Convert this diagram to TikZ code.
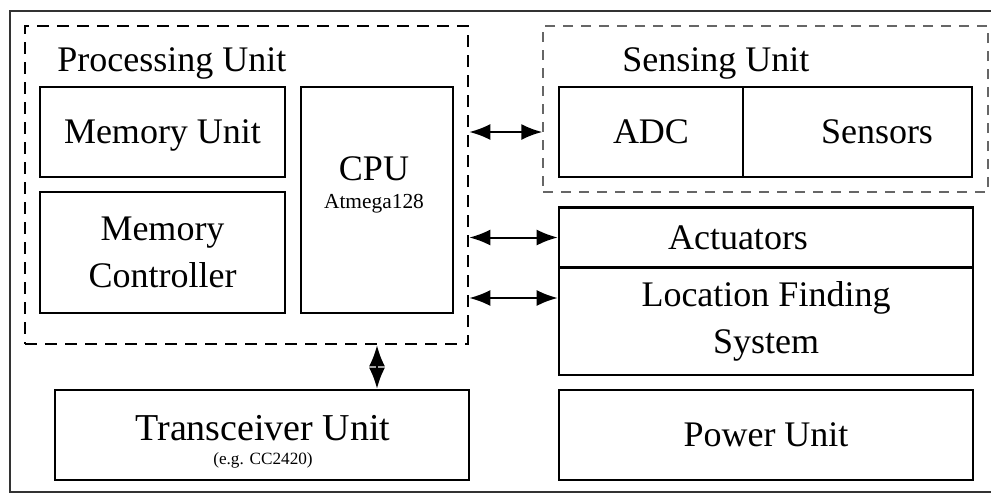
\documentclass[tikz,border=0pt]{standalone}
\usepackage{fontspec}
\setmainfont{Liberation Serif}
\usetikzlibrary{
    arrows.meta,
    calc,
    %positioning,
}

\begin{document}
\begin{tikzpicture}[
        x=0.5pt, y=-0.5pt,
        frame/.style={draw=black!80, line width=1pt},
        unit/.style={rectangle, draw=black, line width=1.3pt, inner sep=0pt, align=center,
            font=\fontsize{18}{23.5}\selectfont},
        group/.style={rectangle, draw=black, line width=1.3pt, dash pattern=on 6pt off 4pt, inner sep=0pt},
        sgroup/.style={rectangle, draw=black!60, line width=0.7pt, dash pattern=on 5pt off 4pt, inner sep=0pt},
        grouplabel/.style={anchor=base west, inner sep=0pt, font=\fontsize{18}{21}\selectfont},
        txt/.style={inner sep=0pt, align=center, font=\fontsize{18}{21}\selectfont},
        biarrow/.style={{Latex[length=10.5pt,width=8pt]}-{Latex[length=10.5pt,width=8pt]}, line width=1pt}
        ]
        \path[use as bounding box, clip] (0,0) rectangle (991,494);
        \draw[frame] (10,11) rectangle (1010,492);

        % processing unit
        \node[group] (PU) at (246.5,185) [minimum width=221.5pt, minimum height=159pt] {};
        \node[grouplabel] (PUL) at (57,71) {Processing Unit};
        \node[unit] (MEM) at (162.5,132) [minimum width=122.5pt, minimum height=45pt, text depth=0pt] {Memory Unit};
        \node[unit] (MCTRL) at (162.5,252.5) [minimum width=122.5pt, minimum height=60.5pt] {Memory\\Controller};
        \node[unit] (CPU) at (377,200) [minimum width=76pt, minimum height=113pt] {};
        \node[txt] (CPUT) at (374,184.5) {CPU\\[-7pt]{\fontsize{10.7}{12}\selectfont Atmega128}};

        % sensing unit
        \node[sgroup] (SU) at (765.5,109) [minimum width=222.5pt, minimum height=83pt] {};
        \node[grouplabel] (SUL) at (622,71) {Sensing Unit};
        \node[unit] (ADC) at (651,132) [minimum width=92pt, minimum height=45pt] {ADC};
        \node[unit] (SENS) at (857.5,132) [minimum width=114.5pt, minimum height=45pt] {};
        \node[txt] (SENST) at (877,132) {Sensors};

        % right column
        \node[unit] (ACT) at (766,237.5) [minimum width=207pt, minimum height=30pt] {};
        \node[txt] (ACTT) at (738,238) {Actuators};
        \node[unit] (LFS) at (766,321.5) [minimum width=207pt, minimum height=53.5pt] {Location Finding\\System};
        \node[unit] (PWR) at (766,435) [minimum width=207pt, minimum height=45pt] {Power Unit};

        % transceiver
        \node[unit] (TRX) at (262,435) [minimum width=207pt, minimum height=45pt] {};
        \node[txt] (TRXT) at (263,442) {{\fontsize{19}{21}\selectfont Transceiver Unit}\\[-9pt]{\fontsize{8.6}{10}\selectfont (e.g. CC2420)}};

        \coordinate (A3) at (0,298);
        \draw[biarrow] (PU.east |- ADC.west) -- (SU.west |- ADC.west);
        \draw[biarrow] (PU.east |- ACT.west) -- (ACT.west);
        \draw[biarrow] (PU.east |- A3) -- (LFS.west |- A3);
        \draw[biarrow] (CPU.south |- PU.south) -- (CPU.south |- TRX.north);
    \end{tikzpicture}
\end{document}
